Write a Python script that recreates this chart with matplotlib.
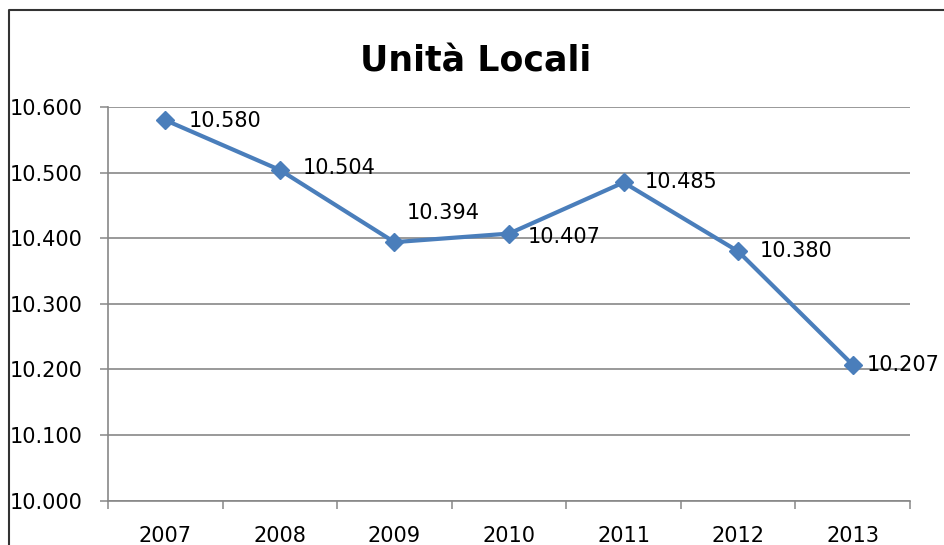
import matplotlib.pyplot as plt
from matplotlib.lines import Line2D

anni = ["2007", "2008", "2009", "2010", "2011", "2012", "2013"]
unita_locali = [10580, 10504, 10394, 10407, 10485, 10380, 10207]
y_ticks = [10000, 10100, 10200, 10300, 10400, 10500, 10600]


def formato_it(v):
    # separatore delle migliaia all'italiana
    return f"{v:,}".replace(",", ".")


plt.rcParams['font.family'] = ['DejaVu Sans']

fig = plt.figure(figsize=(9.44, 5.45), dpi=100)
ax = fig.add_axes([108 / 944, 1 - 500.6 / 545, 802 / 944, 393.6 / 545])

x = list(range(len(anni)))
ax.plot(x, unita_locali, color="#4a7ebb", linewidth=3.0, marker="D",
        markersize=9.5, zorder=3)

# posizione delle etichette rispetto al marker (pixel)
offsets = [(23, -1), (23, 2), (12, 29), (19, -3), (21, 0), (22, 0), (14, 0)]
for xi, v, off in zip(x, unita_locali, offsets):
    ax.annotate(formato_it(v), (xi, v), xytext=off, textcoords="offset pixels",
                ha="left", va="center", fontsize=15, color="black",
                annotation_clip=False, zorder=4)

ax.set_xlim(-0.5, len(anni) - 0.5)
ax.set_ylim(10000, 10600)
ax.set_yticks(y_ticks)
ax.set_yticklabels([formato_it(v) for v in y_ticks], fontsize=15)
ax.yaxis.grid(True, color="#878787", linewidth=1.2)
ax.set_axisbelow(True)

ax.set_xticks(x)
ax.set_xticklabels(anni, fontsize=15)
ax.set_xticks([i - 0.5 for i in range(len(anni) + 1)], minor=True)
ax.tick_params(axis="x", which="major", length=0, pad=18)
ax.tick_params(axis="x", which="minor", length=6, width=1.1, color="#878787")
ax.tick_params(axis="y", length=6, width=1.1, color="#878787", pad=12)

for lato in ("top", "right"):
    ax.spines[lato].set_visible(False)
for lato in ("left", "bottom"):
    ax.spines[lato].set_color("#878787")
    ax.spines[lato].set_linewidth(1.2)

fig.text(476 / 944, 1 - 62 / 545, "Unità Locali", fontsize=25,
         fontweight="bold", ha="center", va="center")

# cornice esterna (lato sinistro e superiore)
bordo_x, bordo_y = 9 / 944, 1 - 10 / 545
fig.add_artist(Line2D([bordo_x, bordo_x, 1.0], [0.0, bordo_y, bordo_y],
                      transform=fig.transFigure, color="#333333",
                      linewidth=1.5))

fig.savefig("out.png", dpi=100, facecolor="white")
